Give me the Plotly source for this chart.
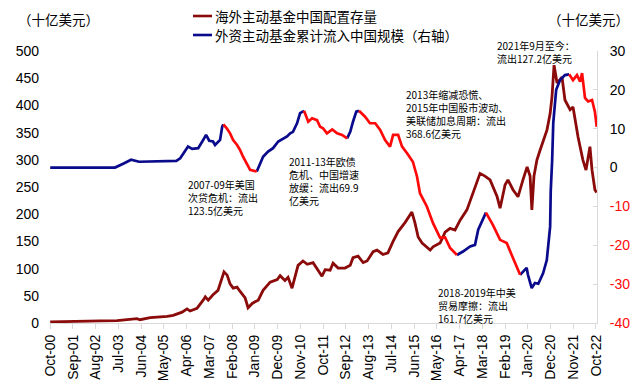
import plotly.graph_objects as go

# ---------------- data ----------------
stock_dates = [
    "2000-10-01", "2001-06-07", "2002-10-07", "2003-06-13", "2004-02-04", "2004-04-01",
    "2004-05-15", "2004-10-13", "2005-06-19", "2005-09-15", "2006-01-25", "2006-04-07",
    "2006-05-22", "2006-09-01", "2006-12-01", "2007-01-01", "2007-02-13", "2007-04-25",
    "2007-07-07", "2007-09-07", "2007-10-04", "2007-11-19", "2008-01-01", "2008-02-15",
    "2008-04-13", "2008-05-28", "2008-08-10", "2008-09-22", "2008-11-22", "2009-01-04",
    "2009-02-19", "2009-05-01", "2009-08-13", "2009-11-25", "2010-01-07", "2010-03-19",
    "2010-05-04", "2010-07-01", "2010-08-15", "2010-09-28", "2010-12-10", "2011-02-10",
    "2011-05-07", "2011-07-04", "2011-09-15", "2011-11-01", "2012-01-13", "2012-02-25",
    "2012-05-10", "2012-08-19", "2012-11-04", "2012-12-15", "2013-02-28", "2013-05-13",
    "2013-07-10", "2013-10-07", "2013-12-04", "2014-03-01", "2014-05-13", "2014-07-28",
    "2014-10-10", "2015-01-22", "2015-05-01", "2015-06-15", "2015-08-01", "2015-09-28",
    "2015-12-10", "2016-01-25", "2016-03-07", "2016-06-19", "2016-09-01", "2016-11-13",
    "2017-01-25", "2017-04-10", "2017-07-19", "2017-10-15", "2018-01-28", "2018-04-10",
    "2018-06-25", "2018-10-07", "2018-11-19", "2019-02-01", "2019-03-15", "2019-05-28",
    "2019-08-10", "2019-10-22", "2019-12-22", "2020-02-04", "2020-03-01", "2020-04-01",
    "2020-05-15", "2020-07-01", "2020-08-28", "2020-10-10", "2020-11-25", "2020-12-22",
    "2021-01-22", "2021-02-22", "2021-03-07", "2021-05-19", "2021-07-01", "2021-09-15",
    "2021-10-28", "2022-01-10", "2022-03-22", "2022-05-07", "2022-07-04", "2022-08-04",
    "2022-09-15", "2022-10-10",
]
stock_values = [
    2, 3, 4, 4.5, 7, 8,
    6, 10, 12, 14, 20, 26,
    22, 27, 42, 48, 42, 52,
    60, 85, 94, 88, 72, 64,
    66, 58, 46, 28, 36, 39,
    42, 60, 75, 80, 87, 78,
    84, 64, 84, 106, 114, 108,
    111, 100, 86, 98, 97, 110,
    101, 101, 106, 120, 123, 111,
    114, 131, 134, 126, 129, 150,
    168, 185, 204, 184, 158, 147,
    140, 134, 140, 147, 167, 174,
    171, 189, 208, 239, 275, 270,
    263, 232, 211, 254, 263, 245,
    232, 263, 287, 270, 208, 270,
    300, 318, 340, 355, 385, 415,
    474, 445, 441, 452, 410, 392,
    397, 342, 300, 281, 324, 281,
    245, 240,
]

flow_dates = [
    "2000-10-01", "2001-06-01", "2002-03-01", "2002-10-01", "2003-03-01", "2003-05-13",
    "2003-09-10", "2004-01-05", "2004-05-01", "2005-03-01", "2005-11-01", "2005-12-28",
    "2006-03-10", "2006-04-22", "2006-06-22", "2006-09-19", "2006-12-01", "2007-01-13",
    "2007-02-28", "2007-04-25", "2007-05-25", "2007-07-07", "2007-08-07", "2007-09-07",
    "2007-09-25", "2007-11-13", "2008-01-01", "2008-02-15", "2008-04-13", "2008-05-28",
    "2008-07-10", "2008-09-10", "2008-10-22", "2009-01-28", "2009-03-15", "2009-05-01",
    "2009-07-13", "2009-09-25", "2009-12-10", "2010-02-22", "2010-04-19", "2010-06-04",
    "2010-07-15", "2010-09-13", "2010-10-28", "2010-12-25", "2011-02-25", "2011-04-22",
    "2011-07-04", "2011-08-19", "2011-10-01", "2011-11-28", "2012-02-13", "2012-04-25",
    "2012-07-07", "2012-09-19", "2012-11-04", "2012-12-15", "2013-02-01", "2013-03-13",
    "2013-06-10", "2013-08-22", "2013-11-07", "2014-01-19", "2014-04-01", "2014-06-13",
    "2014-07-28", "2014-10-10", "2014-12-07", "2015-02-19", "2015-05-15", "2015-07-15",
    "2015-08-28", "2015-12-07", "2016-03-07", "2016-06-19", "2016-09-01", "2016-11-13",
    "2017-02-22", "2017-05-22", "2017-09-04", "2017-11-15", "2018-01-01", "2018-02-25",
    "2018-04-25", "2018-08-07", "2018-11-19", "2019-02-25", "2019-05-28", "2019-09-10",
    "2019-12-15", "2020-01-04", "2020-02-28", "2020-04-15", "2020-06-04", "2020-08-13",
    "2020-10-07", "2020-11-25", "2020-12-04", "2020-12-25", "2021-01-10", "2021-02-22",
    "2021-04-19", "2021-07-01", "2021-09-01", "2021-10-28", "2021-12-25", "2022-02-10",
    "2022-03-10", "2022-04-22", "2022-06-07", "2022-08-04", "2022-09-15", "2022-10-12",
]
flow_values = [
    0.0, 0.0, -0.1, -0.1, -0.1, 0.0,
    1.0, 2.0, 1.5, 1.6, 1.7, 2.4,
    4.1, 5.4, 4.8, 5.0, 7.1, 8.4,
    6.9, 6.7, 5.8, 6.7, 7.1, 10.5,
    11.1, 10.1, 8.8, 7.1, 5.8, 4.5,
    2.8, 0.7, -0.6, -1.0, 0.7, 2.8,
    4.1, 5.0, 6.7, 7.5, 8.0, 8.8,
    9.2, 11.4, 14.0, 14.6, 11.8, 12.7,
    12.2, 10.5, 10.1, 8.8, 9.8, 8.8,
    8.4, 7.5, 9.2, 11.8, 14.4, 14.6,
    13.1, 11.4, 11.4, 9.7, 7.1, 5.4,
    8.4, 8.4, 5.4, 3.7, 1.5, -2.3,
    -6.6, -10.0, -14.3, -18.1, -18.0, -20.7,
    -22.5, -21.6, -20.3, -19.9, -16.0, -13.9,
    -11.6, -14.8, -18.6, -19.4, -23.3, -27.6,
    -25.8, -27.6, -31.0, -29.7, -29.9, -27.2,
    -23.8, -15.2, -6.0, 2.0, 11.5, 20.0,
    22.5, 23.8, 24.0, 22.5, 23.8, 22.1,
    24.3, 17.9, 17.0, 17.4, 14.4, 10.5,
]

# outflow episodes (start, end)
outflow_periods = [
    ("2007-09-25", "2009-01-28"),
    ("2010-12-25", "2012-09-19"),
    ("2013-03-13", "2017-02-22"),
    ("2018-04-25", "2019-09-10"),
    ("2021-09-01", "2022-10-12"),
]

left_ticks = [0, 50, 100, 150, 200, 250, 300, 350, 400, 450, 500]
right_ticks = [-40, -30, -20, -10, 0, 10, 20, 30]

series_names = ["海外主动基金中国配置存量", "外资主动基金累计流入中国规模（右轴）"]
unit_label = "（十亿美元）"
notes = [
    "2007-09年美国<br>次贷危机：流出<br>123.5亿美元",
    "2011-13年欧债<br>危机、中国增速<br>放缓：流出69.9<br>亿美元",
    "2013年缩减恐慌、<br>2015年中国股市波动、<br>美联储加息周期：流出<br>368.6亿美元",
    "2018-2019年中美<br>贸易摩擦：流出<br>161.7亿美元",
    "2021年9月至今：<br>流出127.2亿美元",
]

# ---------------- styling ----------------
DARK_RED = "#8B0A0A"
BLUE = "#0A0A8C"
RED = "#FF0A0A"
GRID = "#D9D9D9"
FONT = "Liberation Sans, Arial, Noto Sans CJK SC, sans-serif"
CJK = "Noto Sans CJK SC, sans-serif"

W, H = 640, 390
L, R, T, B = 50, 597, 51, 323


def px(x):
    return (x - L) / (R - L)


def py(y):
    return (B - y) / (B - T)


def in_outflow(d, strict):
    for s, e in outflow_periods:
        if strict and s < d < e:
            return True
        if not strict and s <= d <= e:
            return True
    return False


red_y = [v if in_outflow(d, False) else None for d, v in zip(flow_dates, flow_values)]
blue_y = [None if in_outflow(d, True) else v for d, v in zip(flow_dates, flow_values)]

fig = go.Figure()
fig.add_trace(go.Scatter(x=stock_dates, y=stock_values, mode="lines",
                         line=dict(color=DARK_RED, width=2.8), yaxis="y",
                         name=series_names[0], showlegend=False))
fig.add_trace(go.Scatter(x=flow_dates, y=blue_y, mode="lines", connectgaps=False,
                         line=dict(color=BLUE, width=2.7), yaxis="y2",
                         name=series_names[1], showlegend=False))
fig.add_trace(go.Scatter(x=flow_dates, y=red_y, mode="lines", connectgaps=False,
                         line=dict(color=RED, width=2.7), yaxis="y2",
                         name=series_names[1], showlegend=False))

right_text = [(f'<span style="color:{RED}">{v}</span>' if v < 0 else str(v)) for v in right_ticks]

fig.update_layout(
    width=W, height=H,
    margin=dict(l=L, r=W - R, t=T, b=H - B, pad=0, autoexpand=False),
    paper_bgcolor="white", plot_bgcolor="white",
    font=dict(family=FONT, size=14, color="black"),
    showlegend=False,
    xaxis=dict(
        type="date", range=["2000-09-28", "2022-10-16"], automargin=False,
        tickmode="linear", tick0="2000-10-01", dtick="M11", tickformat="%b-%y",
        tickangle=-90, tickfont=dict(size=14, family=FONT),
        showgrid=False, zeroline=False,
        showline=True, linecolor=GRID, linewidth=1,
        ticks="outside", ticklen=5, tickcolor=GRID,
    ),
    yaxis=dict(
        range=[0, 500], tickvals=left_ticks, ticktext=[str(v) for v in left_ticks],
        showgrid=False, zeroline=False, showline=False, ticks="", automargin=False,
        ticklabelstandoff=10, tickfont=dict(size=14, family=FONT),
    ),
    yaxis2=dict(
        range=[-40, 30], overlaying="y", side="right", automargin=False,
        tickvals=right_ticks, ticktext=right_text,
        showgrid=False, zeroline=False, showline=True, linecolor=GRID, linewidth=1,
        ticks="inside", ticklen=4, tickcolor=GRID,
        ticklabelstandoff=9, tickfont=dict(size=14, family=FONT),
    ),
)

# legend drawn as line samples + text
legend_rows = [(16, DARK_RED), (35, BLUE)]
for (yy, col), name in zip(legend_rows, series_names):
    fig.add_shape(type="line", xref="paper", yref="paper",
                  x0=px(193), x1=px(212), y0=py(yy), y1=py(yy),
                  line=dict(color=col, width=2.6))
    fig.add_annotation(xref="paper", yref="paper", x=px(213), y=py(yy),
                       xanchor="left", yanchor="middle", showarrow=False,
                       text=name, font=dict(family=CJK, size=13.5, color="black"))

# unit labels
fig.add_annotation(xref="paper", yref="paper", x=px(58), y=py(19), xanchor="center",
                   yanchor="middle", showarrow=False, text=unit_label,
                   font=dict(family=CJK, size=13.5, color="black"))
fig.add_annotation(xref="paper", yref="paper", x=px(588), y=py(19), xanchor="center",
                   yanchor="middle", showarrow=False, text=unit_label,
                   font=dict(family=CJK, size=13.5, color="black"))

# text notes
note_pos = [(186, 175), (287, 152), (404, 85), (436, 283), (495, 36)]
for (nx, ny), txt in zip(note_pos, notes):
    fig.add_annotation(xref="paper", yref="paper", x=px(nx), y=py(ny),
                       xanchor="left", yanchor="top", align="left", showarrow=False,
                       text=txt, font=dict(family=CJK, size=10, color="black"))

fig.write_html("out.html", config={"displayModeBar": False},
               post_script="document.body.style.margin='0px';")
